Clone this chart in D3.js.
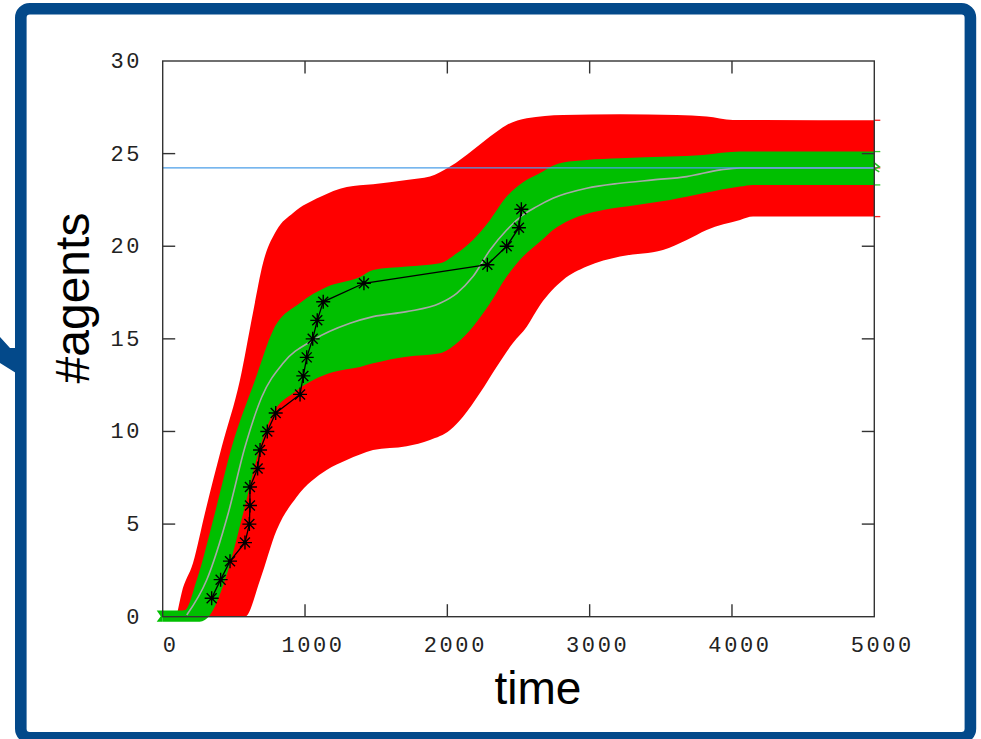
<!DOCTYPE html>
<html><head><meta charset="utf-8">
<script src="https://cdn.jsdelivr.net/npm/d3@7"></script>
<style>html,body{margin:0;padding:0;background:#fff;overflow:hidden}svg{display:block}</style>
</head><body>
<svg id="c" width="981" height="739"></svg>
<script>
// ---- data ----
const xTicks = [0, 1000, 2000, 3000, 4000, 5000];
const yTicks = [0, 5, 10, 15, 20, 25, 30];
const xTickLabels = ["0", "1000", "2000", "3000", "4000", "5000"];
const yTickLabels = ["0", "5", "10", "15", "20", "25", "30"];

const redUpperT = [105, 133, 213, 297, 415, 543, 634, 705, 801, 916, 1105, 1293, 1478, 1714, 1878, 2019, 2180, 2300, 2417, 2558, 2813, 3213, 3612, 3822, 4007, 5000];
const redUpperV = [0.3, 1.28, 2.9, 5.6, 9.17, 12.78, 16.4, 19.1, 20.88, 21.8, 22.66, 23.2, 23.35, 23.58, 23.76, 24.3, 25.2, 25.92, 26.55, 26.91, 27.09, 27.13, 27.09, 27.0, 26.82, 26.8];
const redLowerT = [105, 580, 684, 801, 941, 1152, 1293, 1386, 1478, 1714, 1878, 2019, 2110, 2229, 2347, 2461, 2558, 2652, 2813, 2979, 3213, 3515, 3682, 3822, 4057, 4148, 5000];
const redLowerV = [0, 0, 1.98, 4.68, 6.46, 7.92, 8.46, 8.75, 9.0, 9.2, 9.54, 10.08, 10.8, 12.08, 13.5, 14.78, 15.66, 16.83, 18.18, 18.9, 19.44, 19.8, 20.34, 20.88, 21.42, 21.6, 21.6];

const greenUpperT = [0, 120, 157, 239, 367, 485, 649, 777, 965, 1152, 1386, 1478, 1714, 1948, 2066, 2180, 2300, 2417, 2532, 2652, 2742, 2813, 2979, 3213, 3565, 3797, 4057, 5000];
const greenUpperV = [0.33, 0.33, 0.36, 1.98, 5.6, 9.16, 12.78, 15.48, 16.94, 17.8, 18.34, 18.72, 18.9, 19.08, 19.62, 20.34, 21.42, 22.68, 23.45, 23.95, 24.35, 24.52, 24.66, 24.75, 24.84, 24.93, 25.11, 25.11];
const greenLowerT = [0, 260, 332, 438, 566, 684, 777, 918, 1058, 1199, 1386, 1478, 1714, 1948, 2066, 2180, 2300, 2417, 2532, 2652, 2742, 2862, 3094, 3331, 3565, 3797, 4057, 4148, 5000];
const greenLowerV = [-0.27, -0.27, 0.09, 1.98, 5.6, 9.16, 11.0, 12.08, 12.78, 13.21, 13.48, 13.68, 14.04, 14.22, 14.76, 15.66, 16.92, 18.36, 19.44, 20.25, 20.88, 21.42, 21.96, 22.23, 22.5, 22.86, 23.22, 23.31, 23.31];

const medianT = [169, 309, 461, 578, 696, 847, 1058, 1316, 1478, 1714, 1948, 2066, 2180, 2300, 2417, 2532, 2628, 2742, 2979, 3213, 3446, 3682, 3918, 4057, 5000];
const medianV = [0.09, 1.98, 5.6, 9.16, 11.86, 13.7, 14.94, 15.84, 16.2, 16.47, 16.92, 17.46, 18.36, 19.8, 20.88, 21.69, 22.14, 22.59, 23.13, 23.4, 23.58, 23.76, 24.12, 24.23, 24.23];

const starT = [344, 407, 473, 578, 609, 613, 613, 667, 684, 735, 794, 965, 988, 1012, 1054, 1086, 1128, 1414, 2281, 2417, 2503, 2520];
const starV = [1, 2, 3, 4, 5, 6, 7, 8, 9, 10, 11, 12, 13, 14, 15, 16, 17, 18, 19, 20, 21, 22];

const refLevel = 24.23;

// ---- layout ----
const svg = d3.select("#c");
const x = d3.scaleLinear().domain([0, 5000]).range([162.7, 874.3]);
const y = d3.scaleLinear().domain([0, 30]).range([616.7, 61]);

// outer frame
svg.append("rect").attr("x", 20.8).attr("y", 8.8).attr("width", 949.6).attr("height", 729)
  .attr("rx", 9).attr("fill", "#fff").attr("stroke", "#03498a").attr("stroke-width", 11.6);
// small arrow head on the left
svg.append("path").attr("d", "M0,337 L10,348 L16,348 L16,373 L0,363 Z").attr("fill", "#03498a");

const zip = (ts, vs) => ts.map((t, i) => [x(t), y(vs[i])]);
const line = d3.line().curve(d3.curveMonotoneX);
function bandPath(uT, uV, lT, lV) {
  const up = line(zip(uT, uV));
  const lo = line(zip(lT, lV).reverse());
  return up + "L" + lo.slice(1) + "Z";
}

const g = svg.append("g");
// red band
g.append("path").attr("d", bandPath(redUpperT, redUpperV, redLowerT, redLowerV)).attr("fill", "#ff0000");
// green band
g.append("path").attr("d", bandPath(greenUpperT, greenUpperV, greenLowerT, greenLowerV)).attr("fill", "#00bf00");

// end caps (errorbar style)
const capLen = 6;
const xe = x(5000), x0 = x(0);
[[redUpperV[redUpperV.length - 1], "#ff2020"], [redLowerV[redLowerV.length - 1], "#ff2020"], [refLevel, "#ff2020"],
 [greenUpperV[greenUpperV.length - 1], "#33cc33"], [greenLowerV[greenLowerV.length - 1], "#33cc33"]].forEach(([v, c]) => {
  g.append("line").attr("x1", xe).attr("x2", xe + capLen).attr("y1", y(v)).attr("y2", y(v))
    .attr("stroke", c).attr("stroke-width", 1.3);
});
g.append("path").attr("d", `M${xe},${y(refLevel) - 5} L${xe + 5},${y(refLevel) - 1} L${xe},${y(refLevel) + 1} L${xe + 5},${y(refLevel) + 4}`)
  .attr("fill", "none").attr("stroke", "#22bb22").attr("stroke-width", 1.5);
// left green caps
g.append("path").attr("d", `M${x0 - capLen},${y(greenUpperV[0])} L${x0},${y(greenUpperV[0])} L${x0},${y(greenLowerV[0])} L${x0 - capLen},${y(greenLowerV[0])} L${x0 - 2},${(y(greenUpperV[0]) + y(greenLowerV[0])) / 2} Z`)
  .attr("fill", "#00bf00");

// median line
g.append("path").attr("d", line(zip(medianT, medianV))).attr("fill", "none")
  .attr("stroke", "#a8a8a8").attr("stroke-width", 1.6);

// reference level
g.append("line").attr("x1", x(0)).attr("x2", x(5000)).attr("y1", y(refLevel)).attr("y2", y(refLevel))
  .attr("stroke", "#4a9ee8").attr("stroke-width", 1.4);

// star series
const starPts = zip(starT, starV);
g.append("path").attr("d", d3.line()(starPts)).attr("fill", "none").attr("stroke", "#000").attr("stroke-width", 1.3);
const r = 7, rd = 5;
const sg = g.append("g").attr("stroke", "#000").attr("stroke-width", 1.4);
starPts.forEach(([px, py]) => {
  sg.append("path").attr("d",
    `M${px - r},${py}H${px + r}M${px},${py - r}V${py + r}M${px - rd},${py - rd}L${px + rd},${py + rd}M${px - rd},${py + rd}L${px + rd},${py - rd}`);
  sg.append("circle").attr("cx", px).attr("cy", py).attr("r", 2).attr("fill", "#000").attr("stroke", "none");
});

// plot frame
svg.append("rect").attr("x", x(0)).attr("y", y(30)).attr("width", x(5000) - x(0)).attr("height", y(0) - y(30))
  .attr("fill", "none").attr("stroke", "#333").attr("stroke-width", 1.4);

// ticks (mirrored on all four sides, inward)
const tl = 12.5;
const tg = svg.append("g").attr("stroke", "#333").attr("stroke-width", 1.4);
yTicks.slice(1, -1).forEach(v => {
  tg.append("line").attr("x1", x(0)).attr("x2", x(0) + tl).attr("y1", y(v)).attr("y2", y(v));
  tg.append("line").attr("x1", x(5000)).attr("x2", x(5000) - tl).attr("y1", y(v)).attr("y2", y(v));
});
xTicks.slice(1, -1).forEach(t => {
  tg.append("line").attr("x1", x(t)).attr("x2", x(t)).attr("y1", y(0)).attr("y2", y(0) - tl);
  tg.append("line").attr("x1", x(t)).attr("x2", x(t)).attr("y1", y(30)).attr("y2", y(30) + tl);
});

// tick labels
const monoFont = "'Liberation Mono', 'DejaVu Sans Mono', monospace";
yTicks.forEach((v, i) => {
  svg.append("text").attr("x", 142).attr("y", y(v) + 1.5).attr("text-anchor", "end")
    .attr("dominant-baseline", "central").attr("font-family", monoFont).attr("font-size", 22)
    .attr("letter-spacing", 2.6).attr("fill", "#222").text(yTickLabels[i]);
});
xTicks.forEach((t, i) => {
  svg.append("text").attr("x", x(t) + 8).attr("y", 646).attr("text-anchor", "middle")
    .attr("dominant-baseline", "central").attr("font-family", monoFont).attr("font-size", 22)
    .attr("letter-spacing", 2.6).attr("fill", "#222").text(xTickLabels[i]);
});

// axis titles
svg.append("text").attr("x", 538).attr("y", 704).attr("text-anchor", "middle")
  .attr("font-family", "'Liberation Sans', Arial, sans-serif").attr("font-size", 46).attr("fill", "#000").text("time");
svg.append("text").attr("transform", "translate(89,298) rotate(-90)").attr("text-anchor", "middle")
  .attr("font-family", "'Liberation Sans', Arial, sans-serif").attr("font-size", 48).attr("fill", "#000").text("#agents");
</script>
</body></html>
